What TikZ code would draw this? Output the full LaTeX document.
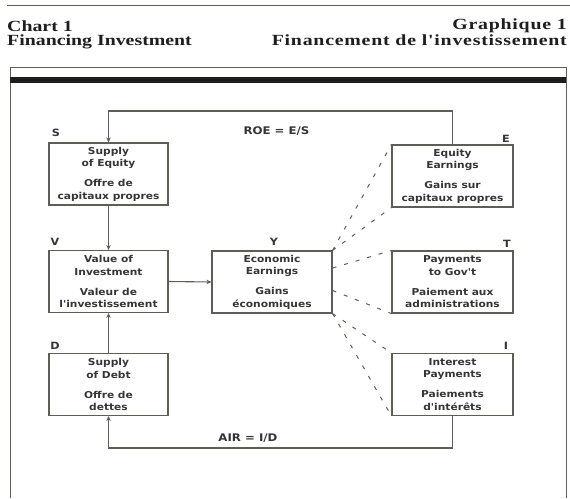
\documentclass[tikz,border=0pt]{standalone}
\usepackage{fontspec}
\setmainfont{Liberation Serif}
\newfontfamily\titlefont[FakeStretch=1.28]{Liberation Serif}
\newfontfamily\titlefontwide[FakeStretch=1.28, LetterSpace=5]{Liberation Serif}
\newfontfamily\boxfont[FakeStretch=1.12]{DejaVu Sans}
\usetikzlibrary{arrows.meta}

\definecolor{inkline}{HTML}{5B5F57}
\definecolor{inktext}{HTML}{353535}
\definecolor{inkbar}{HTML}{1E1E1E}

\tikzset{
  flowbox/.style={draw=inkline, line width=1.1pt, rectangle, inner sep=0pt,
    minimum width=119pt, minimum height=62pt, align=center, text=inktext,
    font=\boxfont\bfseries\fontsize{9.5}{12.5}\selectfont},
  tag/.style={inner sep=0pt, text=inktext, font=\boxfont\bfseries\fontsize{10}{12}\selectfont},
  ratio/.style={tag, font=\boxfont\bfseries\fontsize{10.5}{12}\selectfont},
  heading/.style={inner sep=0pt, text=inkbar, font=\titlefont\bfseries\fontsize{15.5}{14}\selectfont},
  flow/.style={draw=inkline, line width=1.1pt, -{Stealth[length=5pt,width=4.5pt]}},
  fan/.style={draw=inkline, line width=1pt, dash pattern=on 4pt off 8pt},
}

\begin{document}
\begin{tikzpicture}[x=1pt, y=-1pt]
  \useasboundingbox (0,0) rectangle (570,498);

  % --- Heading and frame ---
  \draw[inkline, line width=0.8pt] (7,5) -- (570,5);
  \node[heading, anchor=base west, align=left] (chart) at (7,45) {Chart 1\\Financing Investment};
  \node[heading, anchor=base east, align=right,
        font=\titlefontwide\bfseries\fontsize{15.5}{14}\selectfont] (graph) at (567,45)
        {Graphique 1\\Financement de l'investissement};
  \draw[inkline, line width=0.9pt] (10,498) -- (10,67) -- (566,67) -- (566,498);
  \fill[inkbar] (10,77) rectangle (566,83);

  % --- Boxes, left column ---
  \node[flowbox] (S) at (108.5,174) {Supply\\of Equity\\[7.5pt]Offre de\\capitaux propres};
  \node[flowbox] (V) at (108.5,281.5) {Value of\\Investment\\[7.5pt]Valeur de\\l'investissement};
  \node[flowbox] (D) at (108.5,384.5) {Supply\\of Debt\\[7.5pt]Offre de\\dettes};
  % --- Middle box ---
  \node[flowbox, minimum width=120pt] (Y) at (272,282) {Economic\\Earnings\\[7.5pt]Gains\\économiques};
  % --- Boxes, right column ---
  \node[flowbox, minimum width=121pt] (E) at (452.5,176) {Equity\\Earnings\\[7.5pt]Gains sur\\capitaux propres};
  \node[flowbox, minimum width=121pt] (T) at (452.5,282) {Payments\\to Gov't\\[7.5pt]Paiement aux\\administrations};
  \node[flowbox, minimum width=121pt] (I) at (452.5,384.5) {Interest\\Payments\\[7.5pt]Paiements\\d'intérêts};

  % --- Letters on the boxes ---
  \node[tag] (tagS) at (56,133) {S};
  \node[tag] (tagV) at (55,242) {V};
  \node[tag] (tagD) at (55,346) {D};
  \node[tag] (tagY) at (274,242) {Y};
  \node[tag] (tagE) at (506,139) {E};
  \node[tag] (tagT) at (507,244) {T};
  \node[tag] (tagI) at (506,346) {I};

  % --- Ratios ---
  \node[ratio] (roe) at (276.5,131.5) {ROE = E/S};
  \node[ratio] (air) at (248,438) {AIR = I/D};

  % --- Solid connectors ---
  \coordinate (roeturn) at (457,111);
  \coordinate (airturn) at (457,448);
  \draw[flow] (E.north) -- (E.north |- roeturn) -| (S.north);
  \draw[flow] (I.south) -- (I.south |- airturn) -| (D.south);
  \draw[flow] (S.south) -- (V.north);
  \draw[flow] (D.north) -- (V.south);
  \draw[flow] (V.east) -- (Y.west);

  % --- Dashed fan from Y ---
  \foreach \from/\to in {Y.north east/E.north west, Y.north east/E.south west,
                         Y.13/T.north west, Y.-8/T.south west,
                         Y.south east/I.north west, Y.south east/I.south west}
    \draw[fan] (\from) -- (\to);
\end{tikzpicture}
\end{document}
